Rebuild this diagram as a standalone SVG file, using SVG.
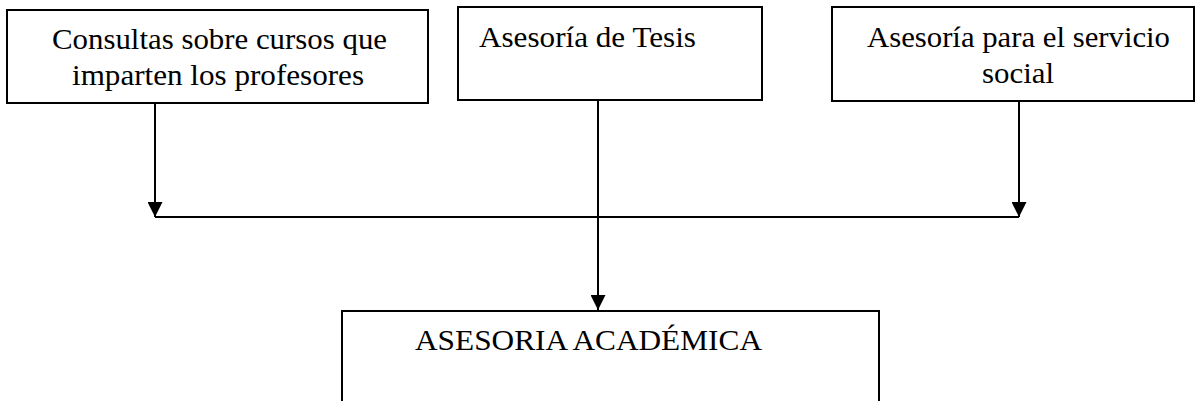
<svg xmlns="http://www.w3.org/2000/svg" width="1196" height="401" viewBox="0 0 1196 401">
<style>
.box{fill:#fff;stroke:#000;stroke-width:2}
.t{font-family:"Liberation Serif","Times New Roman",serif;font-size:30px;fill:#000}
.c{fill:none;stroke:#000;stroke-width:2}
</style>
<defs>
<marker id="ah" markerUnits="userSpaceOnUse" markerWidth="15" markerHeight="15" refX="15" refY="7.5" orient="auto" viewBox="0 0 15 15">
<path d="M0,0 L15,7.5 L0,15 z" fill="#000"/>
</marker>
</defs>
<rect width="1196" height="401" fill="#fff"/>
<g id="connectors">
<path class="c" d="M155,103 V217" marker-end="url(#ah)"/>
<path class="c" d="M1019,101 V217" marker-end="url(#ah)"/>
<path class="c" d="M155,217 H1019"/>
<path class="c" d="M598,100 V310" marker-end="url(#ah)"/>
</g>
<g id="n1">
<rect class="box" x="7" y="10" width="421" height="93"/>
<text class="t" x="52" y="49" textLength="335" lengthAdjust="spacingAndGlyphs">Consultas sobre cursos que</text>
<text class="t" x="72" y="85" textLength="292" lengthAdjust="spacingAndGlyphs">imparten los profesores</text>
</g>
<g id="n2">
<rect class="box" x="458" y="7" width="304" height="93"/>
<text class="t" x="479" y="47" textLength="217" lengthAdjust="spacingAndGlyphs">Asesoría de Tesis</text>
</g>
<g id="n3">
<rect class="box" x="832" y="7" width="362" height="94"/>
<text class="t" x="867" y="47" textLength="303" lengthAdjust="spacingAndGlyphs">Asesoría para el servicio</text>
<text class="t" x="982" y="83" textLength="72" lengthAdjust="spacingAndGlyphs">social</text>
</g>
<g id="n4">
<rect class="box" x="342" y="311" width="537" height="120"/>
<text class="t" x="415" y="350" textLength="347" lengthAdjust="spacingAndGlyphs">ASESORIA ACADÉMICA</text>
</g>
</svg>
